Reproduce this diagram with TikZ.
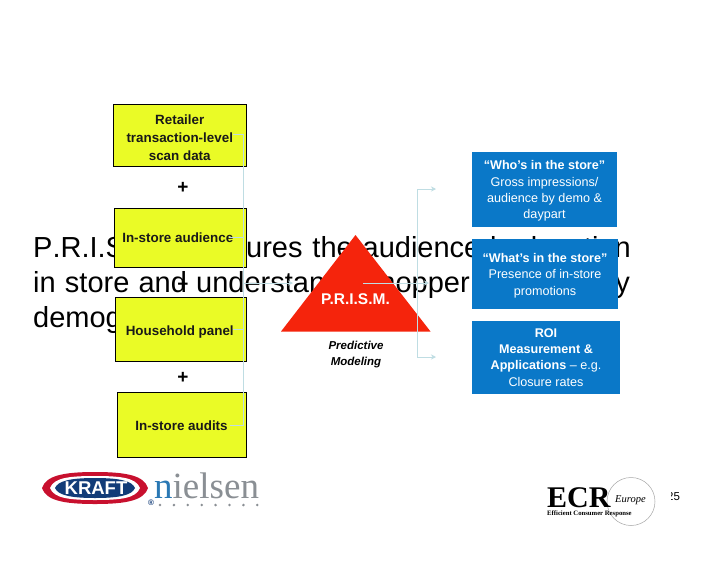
\documentclass[tikz,border=0pt]{standalone}
\usepackage{fontspec}
\setmainfont{Liberation Sans}
\newfontfamily\serifface{Liberation Serif}
\newfontfamily\bigface[Kerning=Off]{Liberation Sans}
\usetikzlibrary{arrows.meta,shapes.geometric}
\definecolor{boxyellow}{HTML}{EAFB26}
\definecolor{boxblue}{HTML}{0A78C8}
\definecolor{linkblue}{HTML}{BFDDE3}
\definecolor{prismred}{HTML}{F5240C}
\definecolor{kraftred}{HTML}{C8102E}
\definecolor{kraftblue}{HTML}{123C78}
\definecolor{nielblue}{HTML}{2A78B4}
\definecolor{nielgray}{HTML}{8A8F94}
\tikzset{
  srcbox/.style={draw=black,line width=1pt,fill=boxyellow,inner sep=0pt,align=center,font=\fontsize{13.4}{18}\selectfont\bfseries,text=black!90},
  outbox/.style={fill=boxblue,inner sep=0pt,align=center,text=white,font=\fontsize{12.6}{16.3}\selectfont},
  plus/.style={font=\fontsize{19}{19}\selectfont\bfseries,inner sep=0pt},
  bigtext/.style={anchor=base west,inner sep=0pt,font=\bigface\fontsize{29}{30}\selectfont},
  link/.style={draw=linkblue,line width=1pt},
  linkarrow/.style={link,-{Stealth[length=5pt,width=5pt]}}
}
\begin{document}
\begin{tikzpicture}[x=1pt,y=-1pt]
\useasboundingbox[fill=white] (0,0) rectangle (728,563);
% background text
\node[bigtext] (l1) at (33,257) {\spaceskip=9.9pt P.R.I.S.M. measures the audience by location};
\node[bigtext] (l2) at (33,292) {\spaceskip=9.2pt in store and understands shopper behavior by};
\node[bigtext] (l3) at (33,327) {demographic};
% source boxes
\node[srcbox,minimum width=132.5pt,minimum height=62pt] (retail) at (179.75,135) {\rule{0pt}{16pt}Retailer\\transaction-level\\scan data};
\node[srcbox,minimum width=131.5pt,minimum height=58.5pt] (aud) at (180.25,237.75) {\hspace*{-5pt}\rule{0pt}{10pt}In-store audience};
\node[srcbox,minimum width=130.5pt,minimum height=64pt] (panel) at (180.75,329) {\hspace*{-2pt}\rule{0pt}{16pt}Household panel};
\node[srcbox,minimum width=129pt,minimum height=64.5pt] (audits) at (181.5,424.75) {\rule{0pt}{12pt}In-store audits};
\node[plus] (p1) at (183,188) {+};
\node[plus] (p2) at (183,285) {+};
\node[plus] (p3) at (183,378) {+};
% triangle
\path[fill=prismred] (355.5,235) -- (430.5,331.5) -- (281,331.5) -- cycle;
\node[inner sep=0pt,text=white,font=\fontsize{15.5}{15.5}\selectfont\bfseries] (prism) at (355.5,299) {P.R.I.S.M.};
\node[inner sep=0pt,align=center,font=\fontsize{11.5}{16}\selectfont\bfseries\itshape] (model) at (356,355) {Predictive\\Modeling};
% connectors
\coordinate (busL) at (243.5,283);
\coordinate (busR) at (417,283);
\coordinate (tipL) at (293,283);
\coordinate (o1) at (436,189);
\coordinate (o2) at (429,283);
\coordinate (o3) at (436,357);
\coordinate (s1) at (233,134);
\coordinate (s2) at (229,237);
\coordinate (s3) at (233,329);
\coordinate (s4) at (230,425);
\coordinate (tipR) at (363,283);
\draw[link] (s1) -| (s4 -| busL) -- (s4);
\draw[link] (s2) -- (s2 -| busL);
\draw[link] (s3) -- (s3 -| busL);
\draw[linkarrow] (busL) -- (tipL);
\draw[linkarrow] (tipR) -- (o2);
\draw[linkarrow] (busR) |- (o1);
\draw[linkarrow] (busR) |- (o3);
% outputs
\node[outbox,minimum width=145pt,minimum height=74.5pt] (who) at (544.5,189.25) {\rule{0pt}{12.5pt}{\bfseries “Who’s in the store”}\\Gross impressions/\\audience by demo \&\\daypart};
\node[outbox,minimum width=146pt,minimum height=70pt] (what) at (545,274) {\rule{0pt}{12.5pt}{\bfseries “What’s in the store”}\\Presence of in-store\\promotions};
\node[outbox,minimum width=148pt,minimum height=73pt] (roi) at (546,357.5) {{\bfseries ROI}\\{\bfseries Measurement \&}\\{\bfseries Applications} -- e.g.\\Closure rates};
% Kraft logo
\path[fill=kraftred] (42,488) .. controls (46,476) and (62,472) .. (95,472) .. controls (128,472) and (144,476) .. (148,488) .. controls (144,500) and (128,504) .. (95,504) .. controls (62,504) and (46,500) .. (42,488) -- cycle;
\path[fill=white] (50,488) .. controls (54,478) and (68,476) .. (95,476) .. controls (122,476) and (136,478) .. (140,488) .. controls (136,498) and (122,500) .. (95,500) .. controls (68,500) and (54,498) .. (50,488) -- cycle;
\path[fill=kraftblue] (55,488) .. controls (58,481) and (70,478) .. (95,478) .. controls (120,478) and (132,481) .. (135,488) .. controls (132,495) and (120,498) .. (95,498) .. controls (70,498) and (58,495) .. (55,488) -- cycle;
\node[inner sep=0pt,text=white,font=\fontsize{18.5}{18.5}\selectfont\bfseries] (kraft) at (96,488) {KRAFT};
\node[inner sep=0pt,text=kraftblue,font=\fontsize{8}{8}\selectfont\bfseries] (reg) at (151,503) {®};
% Nielsen logo
\node[anchor=base west,inner sep=0pt,text=nielgray,font=\fontsize{37}{37}\selectfont\serifface] (niel) at (154,498) {{\color{nielblue}n}ielsen};
\foreach \i in {0,...,7}{\fill[nielgray] (160+\i*13.9,505) circle (1.4pt);}
% ECR logo
\draw[gray!70,line width=0.5pt] (631,501.5) circle (24pt);
\node[anchor=base west,inner sep=0pt,font=\fontsize{30}{30}\selectfont\serifface\bfseries] (ecr) at (547,507) {ECR};
\node[anchor=base west,inner sep=0pt,font=\fontsize{10.5}{10.5}\selectfont\serifface\itshape] (eur) at (615,502) {Europe};
\node[anchor=base west,inner sep=0pt,font=\fontsize{6.7}{6.7}\selectfont\serifface\bfseries] (eff) at (547,515.5) {Efficient Consumer Response};
\node[anchor=base west,inner sep=0pt,font=\fontsize{11.5}{11.5}\selectfont] (num) at (667,500.5) {25};
\fill[white] (664,488) rectangle (670.5,503);
\end{tikzpicture}
\end{document}
